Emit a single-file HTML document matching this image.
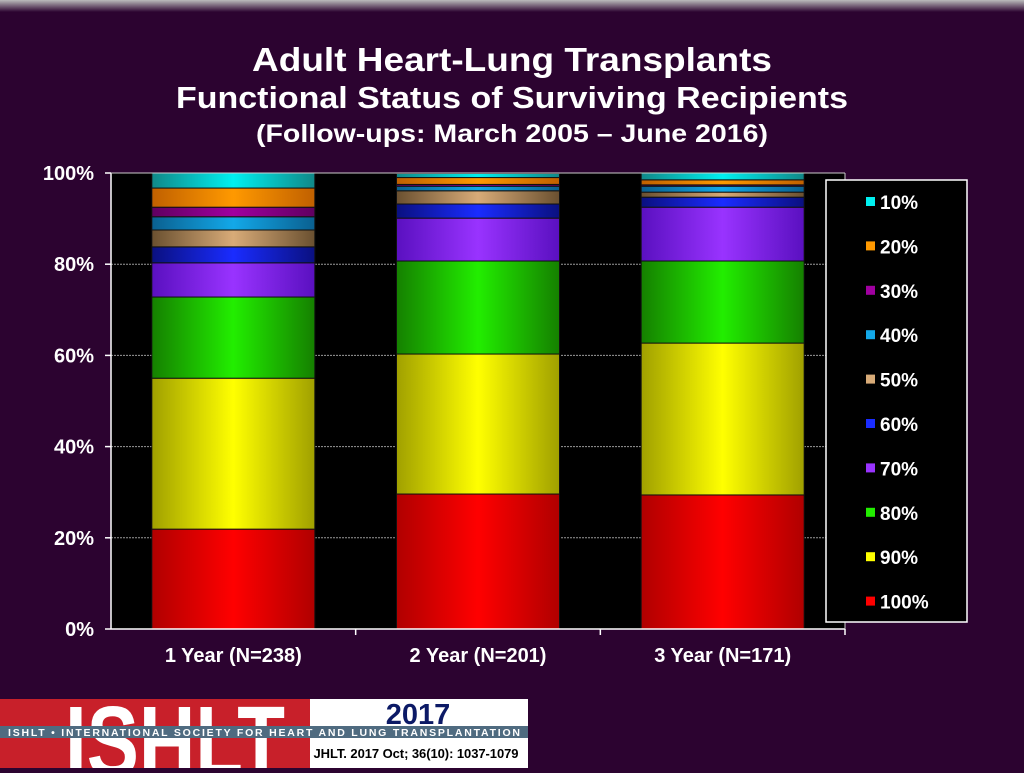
<!DOCTYPE html>
<html><head><meta charset="utf-8"><style>
body{margin:0;width:1024px;height:768px;overflow:hidden;background:#2c0330;font-family:"Liberation Sans",sans-serif;}
</style></head><body>
<svg width="1024" height="768" xmlns="http://www.w3.org/2000/svg">
<defs>
<linearGradient id="topbar" x1="0" y1="0" x2="0" y2="1"><stop offset="0" stop-color="#bbb"/><stop offset="1" stop-color="#2c0330"/></linearGradient>
</defs>
<rect x="0" y="0" width="1024" height="12" fill="url(#topbar)"/>
<text x="512" y="71" text-anchor="middle" font-size="33" font-weight="bold" fill="#fff" textLength="520" lengthAdjust="spacingAndGlyphs">Adult Heart-Lung Transplants</text>
<text x="512" y="108" text-anchor="middle" font-size="31" font-weight="bold" fill="#fff" textLength="672" lengthAdjust="spacingAndGlyphs">Functional Status of Surviving Recipients</text>
<text x="512" y="142" text-anchor="middle" font-size="25" font-weight="bold" fill="#fff" textLength="512" lengthAdjust="spacingAndGlyphs">(Follow-ups: March 2005 – June 2016)</text>
<rect x="111" y="173" width="734" height="456" fill="#000"/>
<g id="grid"></g>
<g id="bars"></g>
<g id="axes"></g>
<rect x="826" y="180" width="141" height="442" fill="#000" stroke="#fff" stroke-width="1.5"/>
<g id="legend"></g>
<g>
<rect x="0" y="699" width="310" height="69" fill="#c8202a"/>
<text x="175" y="776" text-anchor="middle" font-size="100" font-weight="bold" fill="#fff" textLength="220" lengthAdjust="spacingAndGlyphs">ISHLT</text>
<rect x="310" y="699" width="218" height="69" fill="#fff"/>
<rect x="0" y="726" width="528" height="12" fill="#4f6b80"/>
<text x="264" y="736" text-anchor="middle" font-size="10.5" font-weight="bold" fill="#fff" textLength="512">ISHLT • INTERNATIONAL SOCIETY FOR HEART AND LUNG TRANSPLANTATION</text>
<text x="418" y="724" text-anchor="middle" font-size="29" font-weight="bold" fill="#0c1a66">2017</text>
<text x="416" y="758" text-anchor="middle" font-size="13" font-weight="bold" fill="#000" textLength="205">JHLT. 2017 Oct; 36(10): 1037-1079</text>
</g>
</svg>
<script>
const categories=["1 Year (N=238)","2 Year (N=201)","3 Year (N=171)"];
const seriesNames=["100%","90%","80%","70%","60%","50%","40%","30%","20%","10%"];
const s100=[21.9,29.6,29.4];
const s90=[33.1,30.7,33.3];
const s80=[17.8,20.4,18.0];
const s70=[7.5,9.4,11.8];
const s60=[3.5,3.1,2.2];
const s50=[3.7,2.9,1.1];
const s40=[2.9,1.0,1.3];
const s30=[2.1,0.4,0.3];
const s20=[4.2,1.5,1.1];
const s10=[3.3,0.9,1.6];
const yTicks=[0,20,40,60,80,100];
const seriesValues=[s100,s90,s80,s70,s60,s50,s40,s30,s20,s10];
const colors=["#ff0000","#ffff00","#22ee00","#9933ff","#1a2cff","#d8ab78","#13a8e8","#a000a0","#ff9900","#00f0f0"];
const dark=["#b00000","#a0a000","#158000","#5a10c0","#0a1080","#6a5030","#0a6090","#600060","#c06000","#108888"];
const NS="http://www.w3.org/2000/svg";
const X0=111,X1=845,Y0=629,Y1=173;
const y=v=>Y0-(v/100)*(Y0-Y1);
const slot=(X1-X0)/categories.length;
const bw=163;
const xc=i=>X0+slot*(i+0.5);
function mk(t,a,p){const e=document.createElementNS(NS,t);for(const k in a)e.setAttribute(k,a[k]);p.appendChild(e);return e;}
const defs=document.querySelector('defs');
colors.forEach((c,i)=>{const g=mk('linearGradient',{id:'g'+i,x1:0,y1:0,x2:1,y2:0},defs);
mk('stop',{offset:0,'stop-color':dark[i]},g);mk('stop',{offset:0.5,'stop-color':c},g);mk('stop',{offset:1,'stop-color':dark[i]},g);});
const grid=document.getElementById('grid'),axes=document.getElementById('axes'),bars=document.getElementById('bars'),leg=document.getElementById('legend');
yTicks.forEach(t=>{
 if(t>0){const l=mk('line',{x1:X0,x2:X1,y1:y(t),y2:y(t),stroke:'#999','stroke-dasharray':'2,1','stroke-width':1},grid);
 }
 mk('line',{x1:X0-6,x2:X0,y1:y(t),y2:y(t),stroke:'#fff','stroke-width':1.5},axes);
 const tx=mk('text',{x:X0-17,y:y(t)+7,'text-anchor':'end','font-size':20,'font-weight':'bold',fill:'#fff'},axes);
 tx.textContent=t+'%';
 
 
});
mk('line',{x1:X0,x2:X0,y1:Y1,y2:Y0,stroke:'#fff','stroke-width':1.5},axes);
mk('line',{x1:X0,x2:X1,y1:Y0,y2:Y0,stroke:'#fff','stroke-width':1.5},axes);
mk('line',{x1:X0,x2:X1,y1:Y1,y2:Y1,stroke:'#ccc','stroke-width':1},axes);
mk('line',{x1:X1,x2:X1,y1:Y1,y2:Y0,stroke:'#ccc','stroke-width':1},axes);
categories.forEach((c,i)=>{
 mk('line',{x1:X0+slot*(i+1),x2:X0+slot*(i+1),y1:Y0,y2:Y0+6,stroke:'#fff','stroke-width':1.5},axes);
 const tx=mk('text',{x:xc(i),y:662,'text-anchor':'middle','font-size':20,'font-weight':'bold',fill:'#fff'},axes);
 tx.textContent=c;
 
 
 let cum=0;
 seriesValues.forEach((s,k)=>{
  const v=s[i];const r=mk('rect',{x:xc(i)-bw/2,y:y(cum+v),width:bw,height:y(cum)-y(cum+v),fill:'url(#g'+k+')',stroke:'#111','stroke-width':1},bars);
  
  
  cum+=v;
 });
});
[...seriesNames].reverse().forEach((n,j)=>{
 const k=seriesNames.length-1-j;const yy=202+j*44.4;
 const r=mk('rect',{x:866,y:yy-5,width:9,height:9,fill:colors[k]},leg);
 
 
 const t=mk('text',{x:880,y:yy+7,'font-size':19,'font-weight':'bold',fill:'#fff'},leg);
 t.textContent=n;
 
 
});
</script>
</body></html>
